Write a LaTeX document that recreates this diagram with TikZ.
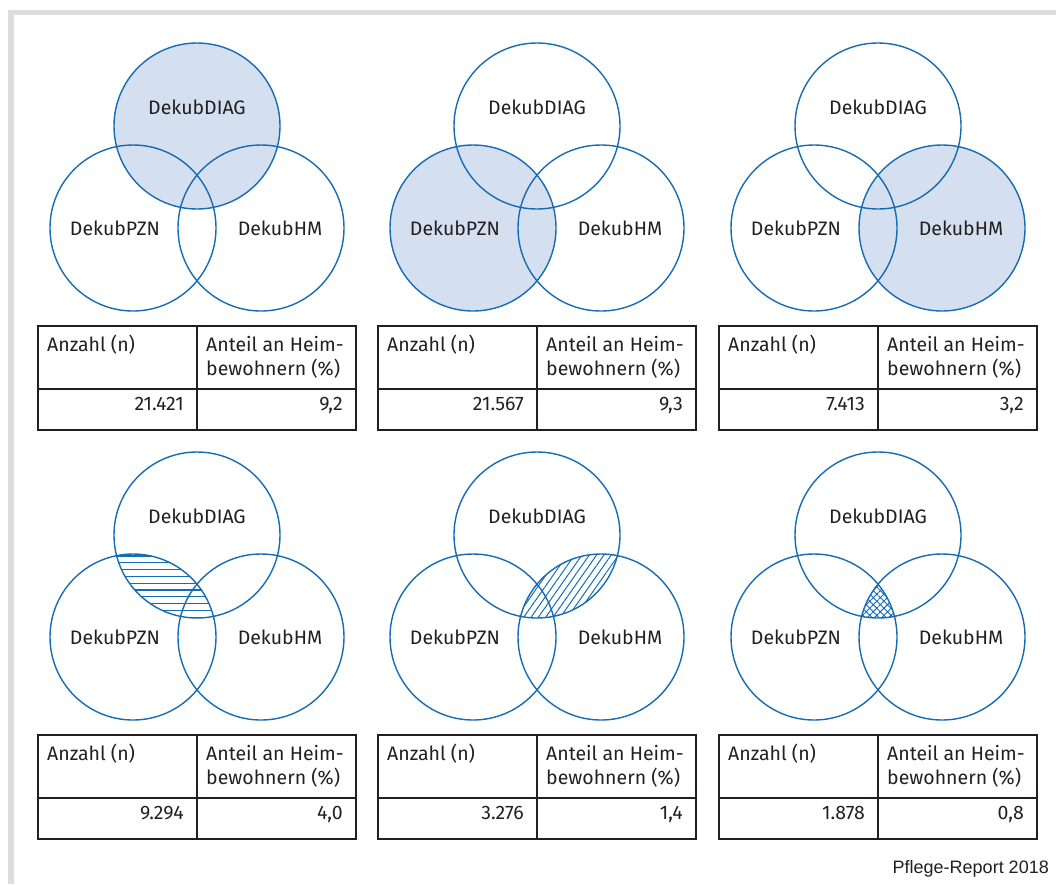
\documentclass[tikz,border=0pt]{standalone}
\usepackage{fontspec}
\setmainfont{Fira Sans}
\newfontfamily\notefont{Liberation Sans}
\usepackage{tikz}
\usetikzlibrary{patterns.meta}

\definecolor{vennblue}{RGB}{22,108,178}
\definecolor{vennfill}{RGB}{212,223,240}
\definecolor{framegray}{RGB}{221,221,221}
\definecolor{inkgray}{RGB}{35,31,32}

\begin{document}
\begin{tikzpicture}[
    x=1pt, y=-1pt,
    ring/.style={draw=vennblue, line width=1.4pt},
    setfill/.style={fill=vennfill},
    hatchline/.style={draw=vennblue, line width=1.1pt},
    setlabel/.style={font=\fontsize{19.5}{22}\selectfont, text=inkgray, inner sep=0pt},
    cellbox/.style={draw=inkgray, line width=1.4pt},
    celltext/.style={font=\fontsize{19.5}{24}\selectfont, text=inkgray, inner sep=0pt, align=left}
  ]
    \useasboundingbox (0,0) rectangle (1056,884);
    \fill[framegray] (8,10) rectangle (1056,15);
    \fill[framegray] (8,10) rectangle (14,884);

    % marked sets, top row
    \fill[setfill] (197,126) circle[radius=83];
    \fill[setfill] (473,228) circle[radius=83];
    \fill[setfill] (942,228) circle[radius=83];

    % marked overlaps, bottom row
    \begin{scope}
      \clip (197,535) circle[radius=83];
      \clip (133,637) circle[radius=83];
      \foreach \yy in {0,...,9}
        \draw[hatchline] (100,556+6.8*\yy) -- (300,556+6.8*\yy);
    \end{scope}
    \begin{scope}
      \clip (537,535) circle[radius=83];
      \fill[pattern={Lines[angle=55,distance=6pt,line width=1pt]}, pattern color=vennblue] (601,637) circle[radius=83];
    \end{scope}
    \begin{scope}
      \clip (878,535) circle[radius=83];
      \clip (814,637) circle[radius=83];
      \fill[pattern={Hatch[angle=45,distance=5pt,line width=0.9pt]}, pattern color=vennblue] (942,637) circle[radius=83];
    \end{scope}

    \foreach \dx/\dy/\num/\share [count=\i] in {0/0/21.421/{9,2}, 340/0/21.567/{9,3}, 681/0/7.413/{3,2},
        0/409/9.294/{4,0}, 340/409/3.276/{1,4}, 681/409/1.878/{0,8}} {
      \draw[ring] (197+\dx,126+\dy) circle[radius=83];
      \draw[ring] (133+\dx,228+\dy) circle[radius=83];
      \draw[ring] (261+\dx,228+\dy) circle[radius=83];
      \node[setlabel] (diag\i) at (197+\dx,107+\dy) {DekubDIAG};
      \node[setlabel] (pzn\i) at (115+\dx,228+\dy) {DekubPZN};
      \node[setlabel] (hm\i) at (280+\dx,228+\dy) {DekubHM};
      % table below
      \draw[cellbox] (38+\dx,326+\dy) rectangle (356+\dx,430+\dy);
      \draw[cellbox] (38+\dx,389+\dy) -- (356+\dx,389+\dy);
      \draw[cellbox] (197+\dx,326+\dy) -- (197+\dx,430+\dy);
      \node[celltext, anchor=base west] (count\i) at (47+\dx,351+\dy) {Anzahl (n)};
      \node[celltext, anchor=base west] (share\i) at (206+\dx,375+\dy) {Anteil an Heim-\\bewohnern (\%)};
      \node[celltext, anchor=base east] (n\i) at (184+\dx,410+\dy) {\num};
      \node[celltext, anchor=base east] (p\i) at (343+\dx,410+\dy) {\share};
    }

    \node[font=\notefont\fontsize{18}{22}\selectfont, text=inkgray, inner sep=0pt, anchor=base east] (source) at (1049,873) {Pflege-Report 2018};
  \end{tikzpicture}
\end{document}
